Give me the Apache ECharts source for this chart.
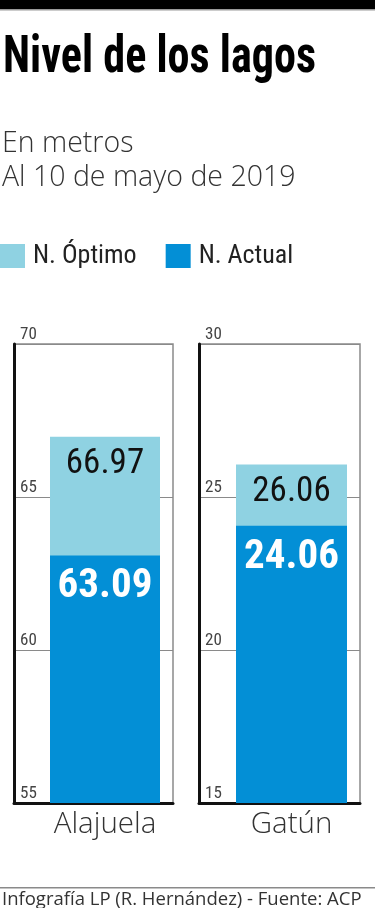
<!DOCTYPE html>
<html>
<head>
<meta charset="utf-8">
<script src="https://cdn.jsdelivr.net/npm/echarts@6/dist/echarts.min.js"></script>
<style>
html,body{margin:0;padding:0;background:#fff;}
#c{width:375px;height:908px;}
</style>
</head>
<body>
<div id="c"></div>
<script>
// ---- data ----
const categories = ['Alajuela', 'Gatún'];
const optimo = [66.97, 26.06];   // N. Óptimo
const actual = [63.09, 24.06];   // N. Actual
const axisMin = [55, 15];
const axisMax = [70, 30];
const axisStep = 5;
const seriesNames = ['N. Óptimo', 'N. Actual'];

// ---- style ----
const COND = '"Roboto Condensed", "Open Sans Condensed", sans-serif';
const SANS = '"Open Sans", "Noto Sans", sans-serif';
const LIGHT = '#8FD2E2';
const DARK = '#038FD6';

// panel layout (px)
const panels = [
  { frameLeft: 14, frameWidth: 159, barLeft: 37, barWidthGrid: 136, barW: 110 },
  { frameLeft: 199, frameWidth: 161, barLeft: 223, barWidthGrid: 137, barW: 111 }
];
const plotTop = 344, plotHeight = 459;

const grid = [], xAxis = [], yAxis = [], series = [];
panels.forEach((p, i) => {
  // frame grid
  grid.push({ left: p.frameLeft, top: plotTop, width: p.frameWidth, height: plotHeight,
    show: true, borderColor: '#8a8a8a', borderWidth: 1.5 });
  // bar grid
  grid.push({ left: p.barLeft, top: plotTop, width: p.barWidthGrid, height: plotHeight });
  const fg = i * 2, bg = i * 2 + 1;
  xAxis.push({ type: 'category', gridIndex: fg, data: [categories[i]],
    axisLine: { show: true, lineStyle: { color: '#111', width: 3 } },
    axisTick: { show: false }, axisLabel: { show: false } });
  xAxis.push({ type: 'category', gridIndex: bg, data: [categories[i]],
    axisLine: { show: false }, axisTick: { show: false },
    axisLabel: { show: true, fontFamily: SANS, fontSize: 29.5, fontWeight: 300, color: '#333', margin: 7 } });
  yAxis.push({ type: 'value', gridIndex: fg, min: axisMin[i], max: axisMax[i], interval: axisStep,
    axisLine: { show: true, lineStyle: { color: '#111', width: 3 } },
    axisTick: { show: false },
    splitLine: { show: true, lineStyle: { color: '#8a8a8a', width: 1 } },
    axisLabel: { inside: true, margin: 6, verticalAlign: 'bottom', align: 'left',
      fontFamily: COND, fontSize: 17, color: '#444', padding: [0, 0, 1, 0] } });
  yAxis.push({ type: 'value', gridIndex: bg, min: axisMin[i], max: axisMax[i], interval: axisStep, show: false });

  series.push({ type: 'bar', name: seriesNames[0], xAxisIndex: i * 2 + 1, yAxisIndex: i * 2 + 1,
    data: [optimo[i]], barWidth: p.barW, barGap: '-100%', itemStyle: { color: LIGHT },
    label: { show: true, position: 'insideTop', distance: 10, fontFamily: COND, fontSize: 35,
      color: '#111', formatter: (d) => d.value.toFixed(2) } });
  series.push({ type: 'bar', name: seriesNames[1], xAxisIndex: i * 2 + 1, yAxisIndex: i * 2 + 1,
    data: [actual[i]], barWidth: p.barW, barGap: '-100%', itemStyle: { color: DARK },
    label: { show: true, position: 'insideTop', distance: 11, fontFamily: COND, fontSize: 41,
      fontWeight: 'bold', color: '#fff', formatter: (d) => d.value.toFixed(2) } });
});

const chart = echarts.init(document.getElementById('c'), null, { renderer: 'canvas' });
chart.setOption({
  backgroundColor: '#fff',
  animation: false,
  title: [
    { text: 'En metros\nAl 10 de mayo de 2019', left: 2, top: 127, padding: 0,
      textStyle: { fontFamily: SANS, fontSize: 28.5, fontWeight: 300, color: '#333', lineHeight: 34 } }
  ],
  legend: {
    data: seriesNames, left: 0, top: 243, padding: 0, icon: 'rect', itemWidth: 25, itemHeight: 24, itemGap: 29,
    selectedMode: false,
    textStyle: { fontFamily: COND, fontSize: 26, color: '#222', padding: [0, 0, 0, 3] }
  },
  graphic: [
    { type: 'rect', left: 0, top: 0, shape: { width: 375, height: 9 }, style: { fill: '#000' } },
    { type: 'rect', left: 0, top: 9, shape: { width: 375, height: 1.5 }, style: { fill: '#9a9a9a' } },
    { type: 'text', left: 3, top: 33, scaleX: 0.85,
      style: { text: 'Nivel de los lagos', fontFamily: COND, fontWeight: 'bold', fontSize: 52, fill: '#000' } },
    { type: 'rect', left: 0, top: 887, shape: { width: 375, height: 1.5 }, style: { fill: '#8a8a8a' } },
    { type: 'text', left: 2, top: 890,
      style: { text: 'Infografía LP (R. Hernández) - Fuente: ACP', fontFamily: SANS, fontSize: 18.5, fill: '#333' } }
  ],
  grid: grid,
  xAxis: xAxis,
  yAxis: yAxis,
  series: series
});
</script>
</body>
</html>
